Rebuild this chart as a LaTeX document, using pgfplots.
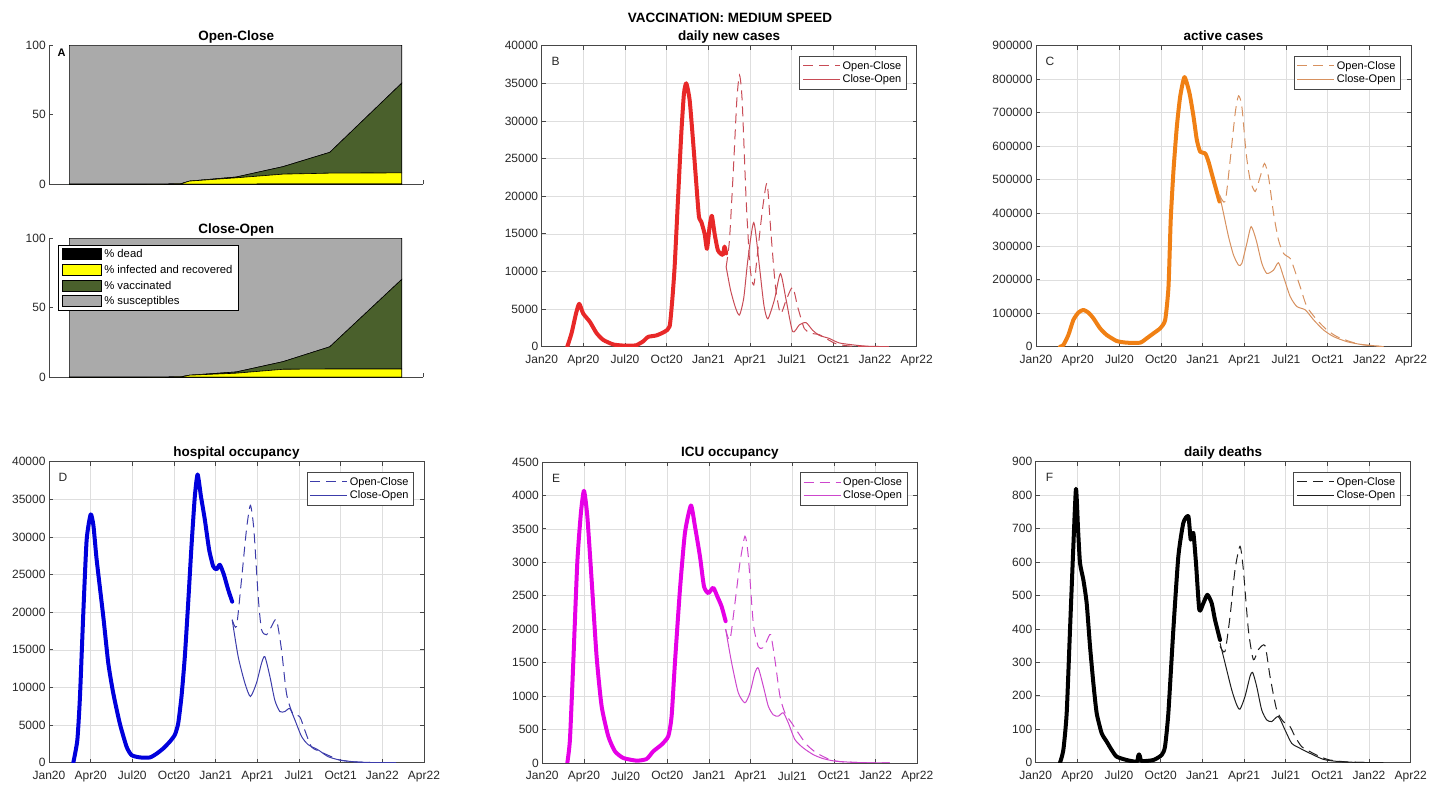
\documentclass[border=0pt]{standalone}
\usepackage{pgfplots}
\pgfplotsset{compat=1.18}
\usepackage{fontspec}
\setmainfont{Liberation Sans}
\definecolor{gridc}{RGB}{222,222,222}
\definecolor{axc}{RGB}{70,70,70}
\definecolor{tickc}{RGB}{40,40,40}
\definecolor{redT}{RGB}{232,40,40}
\definecolor{redt}{RGB}{200,75,85}
\definecolor{orT}{RGB}{240,128,20}
\definecolor{ort}{RGB}{215,145,95}
\definecolor{blT}{RGB}{0,0,220}
\definecolor{blt}{RGB}{60,60,170}
\definecolor{mgT}{RGB}{230,0,230}
\definecolor{mgt}{RGB}{205,70,205}
\definecolor{bkt}{RGB}{30,30,30}
\definecolor{ylw}{RGB}{255,255,0}
\definecolor{grn}{RGB}{74,96,44}
\definecolor{sus}{RGB}{170,170,170}
\pgfplotsset{
  common/.style={
    scale only axis,
    /pgf/number format/assume math mode=true,
    ticklabel style={font=\fontsize{12}{12}\selectfont, text=tickc},
    yticklabel style={/pgf/number format/fixed,/pgf/number format/precision=0,/pgf/number format/1000 sep={}},
    scaled y ticks=false,
    title style={font=\bfseries\fontsize{13.5}{14}\selectfont, anchor=base, at={(0.5,1)}, yshift=-1pt},
  },
  panel/.style={
    common,
    width=375pt, height=301pt,
    xmin=0, xmax=27, ymin=0,
    xtick={0,3,...,27},
    xticklabels={Jan20,Apr20,Jul20,Oct20,Jan21,Apr21,Jul21,Oct21,Jan22,Apr22},
    xticklabel style={yshift=-5pt},
    grid=major, grid style={draw=gridc, line width=0.6pt},
    axis line style={draw=axc, line width=0.8pt},
    tick style={draw=axc, line width=0.8pt},
    tick align=inside, major tick length=4pt,
    legend style={at={(rel axis cs:1,1)}, xshift=-10pt, yshift=-10pt, anchor=north east,
      draw=axc, line width=0.8pt, fill=white, font=\fontsize{11}{12}\selectfont,
      inner xsep=3pt, inner ysep=3pt, row sep=0pt},
    legend cell align=left,
    legend image code/.code={\draw[##1] (0pt,0pt) -- (37pt,0pt);},
  },
  thickline/.style={line width=4pt, line join=round, line cap=round, smooth, tension=0.35, forget plot},
  thinline/.style={line width=1pt, smooth, tension=0.4},
  dashline/.style={line width=1pt, smooth, tension=0.4, dash pattern=on 10pt off 6pt},
  arealeg/.style={legend image code/.code={\draw[##1, draw=black, line width=0.6pt] (0pt,-5pt) rectangle (39pt,6pt);}},
  areapanel/.style={
    common,
    width=374pt, height=139pt,
    xmin=0, xmax=8, ymin=0, ymax=100,
    axis x line=bottom, axis y line=left,
    axis line style={-, draw=axc, line width=0.8pt},
    tick style={draw=axc, line width=0.8pt},
    tick align=inside, major tick length=4pt,
    xtick={1,...,8}, xticklabels={},
    ytick={0,50,100},
    stack plots=y,
  },
}
\begin{document}
\begin{tikzpicture}
\path[use as bounding box] (0pt,0pt) rectangle (1431pt,786pt);
\node[font=\bfseries\fontsize{13.5}{14}\selectfont, anchor=base] at (730pt,763.3pt) {VACCINATION: MEDIUM SPEED};

% ---------- A top ----------
\begin{axis}[areapanel, at={(49.3pt,601.7pt)}, anchor=south west, title={Open-Close}]
\addplot[fill=black, draw=black, line width=0.6pt] coordinates {(0.43,0) (1,0) (2,0) (2.8,0.05) (3,0.1) (4,0.15) (5,0.2) (6,0.2) (7.54,0.2)} \closedcycle;
\addplot[fill=ylw, draw=black, line width=0.6pt] coordinates {(0.43,0) (1,0) (2,0) (2.8,0.2) (3,2.2) (4,4.5) (5,7.1) (6,7.8) (7.54,8.0)} \closedcycle;
\addplot[fill=grn, draw=black, line width=0.6pt] coordinates {(0.43,0) (1,0) (2,0) (2.8,0) (3,0) (4,0.6) (5,5.4) (6,15) (7.54,64.6)} \closedcycle;
\addplot[fill=sus, draw=black, line width=0.6pt] coordinates {(0.43,100) (1,100) (2,100) (2.8,99.75) (3,97.7) (4,94.75) (5,87.3) (6,77) (7.54,27.2)} \closedcycle;
\draw[axc, line width=0.8pt] (axis cs:7.54,0) -- (axis cs:7.54,100);
\node[font=\bfseries\fontsize{11}{11}\selectfont] at (rel axis cs:0.033,0.95) {A};
\end{axis}

% ---------- A bottom ----------
\begin{axis}[areapanel, at={(49.3pt,408.7pt)}, anchor=south west, title={Close-Open}, arealeg,
  legend style={at={(rel axis cs:0.024,0.95)}, anchor=north west, draw=black, line width=0.8pt,
    fill=white, font=\fontsize{11.3}{12}\selectfont, inner xsep=3pt, inner ysep=2pt, row sep=2pt,
    nodes={inner xsep=3pt}},
  legend cell align=left]
\addplot[fill=black, draw=black, line width=0.6pt] coordinates {(0.43,0) (1,0) (2,0) (2.8,0.05) (3,0.1) (4,0.15) (5,0.15) (6,0.15) (7.54,0.15)} \closedcycle;
\addlegendentry{\% dead}
\addplot[fill=ylw, draw=black, line width=0.6pt] coordinates {(0.43,0) (1,0) (2,0) (2.8,0.2) (3,1.4) (4,2.8) (5,5.6) (6,5.8) (7.54,5.8)} \closedcycle;
\addlegendentry{\% infected and recovered}
\addplot[fill=grn, draw=black, line width=0.6pt] coordinates {(0.43,0) (1,0) (2,0) (2.8,0) (3,0) (4,0.9) (5,5.5) (6,16) (7.54,64.5)} \closedcycle;
\addlegendentry{\% vaccinated}
\addplot[fill=sus, draw=black, line width=0.6pt] coordinates {(0.43,100) (1,100) (2,100) (2.8,99.75) (3,98.5) (4,96.15) (5,88.75) (6,78.05) (7.54,29.55)} \closedcycle;
\addlegendentry{\% susceptibles}
\draw[axc, line width=0.8pt] (axis cs:7.54,0) -- (axis cs:7.54,100);
\end{axis}

% ---------- B ----------
\begin{axis}[panel, at={(541.7pt,439.3pt)}, anchor=south west, ymax=40000, ytick={0,5000,...,40000},
  title={daily new cases}]
\addplot[redT, thickline] coordinates {(1.84,0) (2.15,1800) (2.47,4400) (2.7,5700) (2.99,4400) (3.47,3300) (3.95,1800) (4.43,900) (5.15,300) (5.86,150) (6.5,150) (6.82,200) (7.3,700) (7.66,1300) (8.26,1500) (8.86,2000) (9.21,2700) (9.4,6200) (9.57,10600) (9.81,19500) (10.05,28300) (10.24,33600) (10.41,35000) (10.65,32800) (10.89,27500) (11.13,21700) (11.32,17300) (11.49,16600) (11.73,15000) (11.9,13000) (12.09,16000) (12.25,17400) (12.45,15000) (12.69,12800) (13.04,12200) (13.16,13300) (13.28,12400)};
\addplot[redt, dashline] coordinates {(13.28,10600) (13.52,14200) (13.81,23900) (14.05,32800) (14.24,36100) (14.43,32800) (14.72,19500) (15.0,10600) (15.27,8200) (15.56,12800) (15.92,18600) (16.23,21700) (16.51,15000) (16.83,8000) (17.19,4400) (17.6,6200) (18.07,7900) (18.43,5300) (18.91,2400) (19.39,1800) (19.99,1600) (20.46,1100) (21.18,400) (22.1,100) (23.5,20) (25,0)};
\addlegendentry{Open-Close}
\addplot[redt, thinline] coordinates {(13.28,10600) (13.6,7500) (13.95,5200) (14.24,4200) (14.55,6500) (14.84,11500) (15.27,16500) (15.68,10600) (16.0,5500) (16.28,3700) (16.75,6200) (17.19,9700) (17.6,6200) (18.07,2000) (18.55,2900) (19.03,3200) (19.5,2200) (19.99,1500) (20.7,1100) (21.42,500) (22.6,200) (23.5,60) (25.0,0)};
\addlegendentry{Close-Open}
\node[font=\fontsize{12}{12}\selectfont, text=tickc] at (rel axis cs:0.037,0.947) {B};
\end{axis}

% ---------- C ----------
\begin{axis}[panel, at={(1036pt,439.3pt)}, anchor=south west, ymax=900000, ytick={0,100000,...,900000},
  title={active cases}]
\addplot[orT, thickline] coordinates {(1.73,0) (1.97,5000) (2.33,35000) (2.69,80000) (3.05,102000) (3.41,110000) (3.77,102000) (4.13,85000) (4.61,55000) (5.09,35000) (5.81,17000) (6.53,12000) (7.5,12000) (7.97,25000) (8.46,40000) (8.94,55000) (9.3,80000) (9.54,180000) (9.7,380000) (9.9,528000) (10.14,658000) (10.38,748000) (10.69,806000) (11.05,758000) (11.34,688000) (11.58,618000) (11.82,583000) (12.18,578000) (12.42,553000) (12.78,498000) (13.21,434000)};
\addplot[ort, dashline] coordinates {(13.21,454000) (13.62,434000) (13.98,558000) (14.34,698000) (14.58,750000) (14.82,718000) (15.13,578000) (15.42,498000) (15.78,464000) (16.14,508000) (16.45,548000) (16.74,508000) (17.1,399000) (17.46,319000) (17.82,279000) (18.3,264000) (18.54,239000) (19.02,179000) (19.5,120000) (20.23,80000) (20.95,50000) (21.67,30000) (22.63,15000) (23.5,6000) (24.5,2000) (25,0)};
\addlegendentry{Open-Close}
\addplot[ort, thinline] coordinates {(13.21,454000) (13.5,399000) (13.86,329000) (14.22,274000) (14.58,244000) (14.82,249000) (15.18,309000) (15.49,359000) (15.85,319000) (16.26,249000) (16.62,219000) (17.1,229000) (17.46,251000) (17.82,209000) (18.3,150000) (18.78,120000) (19.39,110000) (19.99,80000) (20.7,50000) (21.43,30000) (22.39,15000) (23.35,7000) (24.3,3000) (25.03,0)};
\addlegendentry{Close-Open}
\node[font=\fontsize{12}{12}\selectfont, text=tickc] at (rel axis cs:0.037,0.947) {C};
\end{axis}

% ---------- D ----------
\begin{axis}[panel, at={(49pt,23.3pt)}, anchor=south west, ymax=40000, ytick={0,5000,...,40000},
  title={hospital occupancy}]
\addplot[blT, thickline] coordinates {(1.75,0) (2.04,3000) (2.23,8800) (2.47,19900) (2.71,29600) (3.0,33000) (3.2,31500) (3.43,27000) (3.91,19400) (4.27,13200) (4.63,9200) (5.1,5200) (5.59,2100) (5.95,1000) (6.55,700) (7.27,700) (7.75,1200) (8.23,1900) (8.7,2800) (9.06,3700) (9.3,5200) (9.54,8800) (9.78,14100) (10.02,21200) (10.26,28800) (10.5,35400) (10.7,38300) (10.94,35400) (11.22,32300) (11.53,28300) (11.82,26100) (12.06,25700) (12.3,26300) (12.59,25000) (12.9,23000) (13.19,21400)};
\addplot[blt, dashline] coordinates {(13.19,19000) (13.5,18100) (13.86,24300) (14.22,31000) (14.5,34200) (14.75,31000) (15.06,22100) (15.3,17700) (15.66,17000) (16.02,18100) (16.38,19000) (16.74,15000) (17.1,9200) (17.53,6600) (18.06,6100) (18.42,4300) (18.9,2100) (19.5,1500) (20.2,900) (20.94,350) (21.9,130) (23,30) (25,0)};
\addlegendentry{Open-Close}
\addplot[blt, thinline] coordinates {(13.19,19000) (13.62,14100) (14.1,10600) (14.5,8800) (14.94,10600) (15.3,13200) (15.54,14100) (15.9,11500) (16.26,8300) (16.62,6800) (16.98,6800) (17.34,7200) (17.7,5700) (18.18,3500) (18.66,2400) (19.38,1700) (20.1,800) (20.94,350) (21.9,130) (23,30) (25.0,0)};
\addlegendentry{Close-Open}
\node[font=\fontsize{12}{12}\selectfont, text=tickc] at (rel axis cs:0.037,0.947) {D};
\end{axis}

% ---------- E ----------
\begin{axis}[panel, at={(542.3pt,23pt)}, anchor=south west, ymax=4500, ytick={0,500,...,4500},
  title={ICU occupancy}]
\addplot[mgT, thickline] coordinates {(1.8,0) (1.99,350) (2.23,1500) (2.52,3000) (2.78,3740) (3.0,4070) (3.24,3690) (3.55,2740) (3.91,1590) (4.27,850) (4.75,400) (5.23,175) (5.83,75) (6.79,35) (7.51,60) (7.99,175) (8.59,275) (9.07,400) (9.31,700) (9.55,1500) (9.91,2590) (10.27,3440) (10.7,3850) (10.99,3540) (11.35,3090) (11.64,2640) (11.95,2540) (12.31,2620) (12.6,2490) (12.91,2340) (13.2,2120)};
\addplot[mgt, dashline] coordinates {(13.2,2000) (13.51,1840) (13.87,2390) (14.23,2990) (14.59,3390) (14.83,3090) (15.19,2090) (15.55,1740) (15.86,1720) (16.15,1820) (16.44,1920) (16.75,1540) (17.11,1000) (17.47,750) (17.95,600) (18.43,450) (19.03,275) (19.75,150) (20.71,50) (21.5,20) (23,5) (25,0)};
\addlegendentry{Open-Close}
\addplot[mgt, thinline] coordinates {(13.2,2000) (13.63,1500) (14.11,1050) (14.59,900) (14.95,1050) (15.31,1350) (15.55,1420) (15.91,1150) (16.27,850) (16.63,720) (16.99,700) (17.35,750) (17.71,600) (18.19,350) (18.79,225) (19.51,125) (20.23,65) (21.19,25) (23,5) (25.03,0)};
\addlegendentry{Close-Open}
\node[font=\fontsize{12}{12}\selectfont, text=tickc] at (rel axis cs:0.037,0.947) {E};
\end{axis}

% ---------- F ----------
\begin{axis}[panel, at={(1035.7pt,23.3pt)}, anchor=south west, ymax=900, ytick={0,100,...,900},
  title={daily deaths}]
\addplot[black, thickline] coordinates {(1.75,0) (1.99,38) (2.23,148) (2.47,398) (2.71,647) (2.9,819) (3.05,697) (3.19,597) (3.43,547) (3.67,477) (3.91,348) (4.15,238) (4.39,148) (4.75,88) (5.11,63) (5.47,38) (5.83,18) (6.55,8) (7.27,3) (7.38,20) (7.44,25) (7.5,20) (7.63,5) (8.47,8) (9.07,23) (9.31,48) (9.55,148) (9.91,398) (10.27,617) (10.63,717) (10.99,737) (11.16,667) (11.35,687) (11.54,597) (11.78,457) (12.07,477) (12.36,502) (12.67,477) (12.91,427) (13.27,367)};
\addplot[bkt, dashline] coordinates {(13.27,348) (13.63,333) (13.99,437) (14.35,577) (14.71,647) (14.95,577) (15.31,398) (15.67,308) (16.03,338) (16.51,350) (16.87,258) (17.35,158) (17.83,123) (18.31,108) (18.67,78) (19.15,48) (19.75,33) (20.47,18) (21.19,8) (22.5,2) (25,0)};
\addlegendentry{Open-Close}
\addplot[bkt, thinline] coordinates {(13.27,358) (13.63,298) (14.11,218) (14.47,173) (14.71,160) (15.07,198) (15.43,258) (15.62,270) (15.91,228) (16.27,158) (16.63,128) (16.99,123) (17.47,138) (17.95,98) (18.43,58) (19.03,43) (19.75,28) (20.71,10) (21.67,4) (23,1) (25.03,0)};
\addlegendentry{Close-Open}
\node[font=\fontsize{12}{12}\selectfont, text=tickc] at (rel axis cs:0.037,0.947) {F};
\end{axis}
\end{tikzpicture}
\end{document}
